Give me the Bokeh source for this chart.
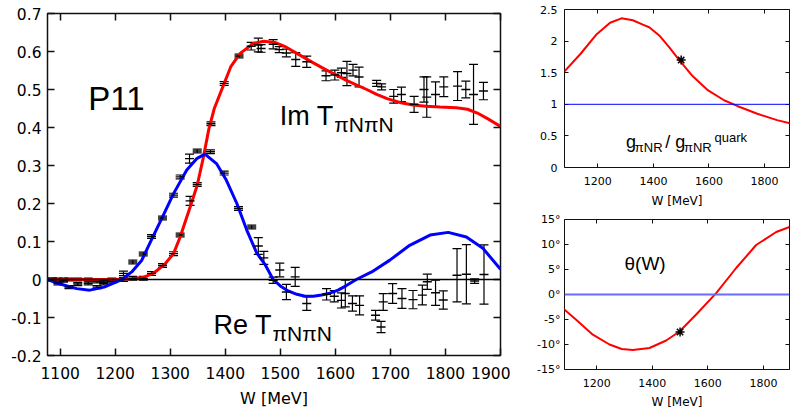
import numpy as np
from bokeh.plotting import figure
from bokeh.models import (ColumnDataSource, Whisker, TeeHead, Span, Label, LinearAxis,
                          FixedTicker, CustomJSTickFormatter)
from bokeh.layouts import row, column
from bokeh.embed import file_html
from bokeh.resources import INLINE

# ---------------- data: main panel (P11 pi N -> pi N amplitude) ----------------
re_w = [1086, 1096, 1106, 1116, 1132, 1151, 1167, 1179, 1194,
        1215, 1232, 1251, 1266, 1286, 1306, 1318, 1335, 1349, 1373,
        1398, 1424, 1448, 1460, 1470, 1487, 1499, 1511, 1527, 1548,
        1584, 1598, 1611, 1618, 1631, 1644, 1673, 1683, 1687, 1704,
        1721, 1741, 1758, 1767, 1782, 1796, 1821, 1838, 1853, 1870]
re_v = [0, -0.01, -0.003, -0.02, -0.012, -0.01, -0.02, -0.01, -0.005,
        0.016, 0.046, 0.067, 0.113, 0.162, 0.222, 0.27, 0.318, 0.338, 0.336,
        0.28, 0.187, 0.138, 0.088, 0.057, -0.002, 0.025, -0.033, 0.007, -0.063,
        -0.039, -0.044, -0.055, -0.037, -0.063, -0.068, -0.094, -0.125, -0.059, -0.037,
        -0.05, -0.053, -0.041, -0.006, -0.035, -0.054, 0.011, 0.014, -0.004, 0.013]
re_e = [0.004, 0.004, 0.004, 0.004, 0.004, 0.004, 0.004, 0.004, 0.004,
        0.006, 0.005, 0.005, 0.005, 0.005, 0.005, 0.005, 0.012, 0.005, 0.005,
        0.005, 0.005, 0.005, 0.022, 0.017, 0.008, 0.018, 0.02, 0.025, 0.018,
        0.015, 0.015, 0.02, 0.035, 0.02, 0.025, 0.013, 0.015, 0.022, 0.026,
        0.026, 0.024, 0.026, 0.02, 0.033, 0.024, 0.07, 0.078, 0.006, 0.078]

im_w = [1086, 1096, 1106, 1116, 1132, 1151, 1167, 1179, 1194,
        1215, 1232, 1251, 1266, 1286, 1306, 1318, 1336, 1349, 1374,
        1398, 1425, 1447, 1460, 1465, 1487, 1498, 1511, 1528, 1548,
        1583, 1599, 1611, 1621, 1632, 1643, 1675, 1684, 1706, 1720,
        1743, 1761, 1766, 1782, 1797, 1822, 1837, 1851, 1869]
im_v = [0, 0, 0, 0, 0, 0, -0.005, -0.003, 0,
        0.0, 0.003, 0.003, 0.016, 0.037, 0.068, 0.117, 0.207, 0.25, 0.41,
        0.516, 0.588, 0.614, 0.617, 0.608, 0.619, 0.605, 0.596, 0.579, 0.573,
        0.536, 0.538, 0.544, 0.542, 0.551, 0.533, 0.516, 0.507, 0.482, 0.487,
        0.461, 0.5, 0.48, 0.487, 0.507, 0.509, 0.5, 0.487, 0.496]
im_e = [0.004, 0.004, 0.004, 0.004, 0.004, 0.004, 0.004, 0.004, 0.004,
        0.005, 0.005, 0.005, 0.005, 0.005, 0.005, 0.005, 0.012, 0.005, 0.005,
        0.005, 0.005, 0.01, 0.018, 0.01, 0.012, 0.008, 0.01, 0.018, 0.015,
        0.013, 0.013, 0.012, 0.032, 0.015, 0.026, 0.008, 0.008, 0.018, 0.019,
        0.021, 0.033, 0.053, 0.033, 0.026, 0.038, 0.022, 0.079, 0.023]

im_curve_w = [1077, 1150, 1200, 1230, 1250, 1270, 1290, 1306, 1318, 1336, 1349, 1360,
              1370, 1380, 1398, 1410, 1427, 1451, 1470, 1490, 1510, 1530, 1560, 1584,
              1603, 1620, 1638, 1657, 1675, 1694, 1717, 1741, 1765, 1790, 1820, 1840,
              1858, 1878, 1900]
im_curve_v = [0, 0, 0, 0.002, 0.005, 0.017, 0.04, 0.068, 0.112, 0.19, 0.248, 0.32,
              0.395, 0.45, 0.516, 0.56, 0.595, 0.621, 0.627, 0.624, 0.612, 0.595, 0.57, 0.551,
              0.537, 0.524, 0.512, 0.5, 0.487, 0.476, 0.466, 0.459, 0.456, 0.454, 0.452, 0.448,
              0.438, 0.422, 0.403]

re_curve_w = [1077, 1100, 1130, 1154, 1180, 1212, 1230, 1248, 1266, 1286, 1306, 1330,
              1348, 1363, 1384, 1402, 1421, 1439, 1457, 1472, 1487, 1500, 1514, 1530,
              1545, 1560, 1575, 1590, 1605, 1620, 1638, 1666, 1699, 1735, 1772, 1805,
              1838, 1868, 1900]
re_curve_v = [0, -0.012, -0.024, -0.028, -0.02, 0, 0.02, 0.05, 0.105, 0.165, 0.226, 0.288,
              0.318, 0.33, 0.305, 0.261, 0.2, 0.13, 0.07, 0.04, 0, -0.017, -0.03, -0.039,
              -0.044, -0.044, -0.041, -0.036, -0.028, -0.016, 0, 0.02, 0.051, 0.09, 0.117, 0.124,
              0.112, 0.082, 0.027]

main_xticks = [1100, 1200, 1300, 1400, 1500, 1600, 1700, 1800, 1900]
main_yticks = [-0.2, -0.1, 0, 0.1, 0.2, 0.3, 0.4, 0.5, 0.6, 0.7]
main_ylabels = ["-0.2", "-0.1", "0", "0.1", "0.2", "0.3", "0.4", "0.5", "0.6", "0.7"]

# ---------------- data: coupling ratio panel ----------------
g_w = [1080, 1138, 1196, 1244, 1285, 1326, 1362, 1385, 1421, 1456, 1491, 1538,
       1597, 1656, 1704, 1774, 1845, 1892]
g_v = [1.52, 1.80, 2.11, 2.29, 2.36, 2.33, 2.26, 2.22, 2.09, 1.91, 1.71, 1.46,
       1.22, 1.06, 0.97, 0.85, 0.75, 0.70]
g_star_w = [1500]
g_star_v = [1.7]
g_ref = 1.0
g_yticks = [0, 0.5, 1, 1.5, 2, 2.5]
g_ylabels = ["0", "0.5", "1", "1.5", "2", "2.5"]

# ---------------- data: mixing angle panel ----------------
th_w = [1080, 1126, 1186, 1246, 1290, 1330, 1390, 1450, 1498, 1558, 1630, 1702,
        1774, 1846, 1894]
th_v = [-2.85, -5.04, -8.03, -10.0, -10.9, -11.1, -10.7, -9.2, -7.4, -4.0, 0.27, 5.3,
        9.9, 12.5, 13.5]
th_star_w = [1500]
th_star_v = [-7.5]
th_ref = 0.0
th_yticks = [-15, -10, -5, 0, 5, 10, 15]
th_ylabels = ["-15°", "-10°", "-5°", "0°", "5°", "10°", "15°"]

right_xticks = [1200, 1400, 1600, 1800]

TICK_FONT = "DejaVu Sans"
TEXT_FONT = "Liberation Sans"
FRAME = "#111111"


def style(p, xticks, yticks, ylabels, tick_len, font_size, frame_w,
          xlabel, xlabel_size, x_standoff, xlabel_standoff, y_standoff):
    p.xgrid.grid_line_color = None
    p.ygrid.grid_line_color = None
    p.outline_line_color = FRAME
    p.outline_line_width = frame_w
    p.outline_line_alpha = 1.0
    p.background_fill_color = "white"
    p.border_fill_color = "white"
    for ax in (p.below[0], p.left[0]):
        ax.axis_line_color = None
        ax.major_tick_in = tick_len
        ax.major_tick_out = 0
        ax.major_tick_line_color = FRAME
        ax.major_tick_line_width = frame_w
        ax.minor_tick_line_color = None
        ax.major_label_text_font = TICK_FONT
        ax.major_label_text_font_size = font_size
        ax.major_label_text_color = "black"
    xa = p.below[0]
    ya = p.left[0]
    xa.ticker = FixedTicker(ticks=xticks)
    ya.ticker = FixedTicker(ticks=yticks)
    ya.major_label_overrides = {t: l for t, l in zip(yticks, ylabels)}
    xa.axis_label = xlabel
    xa.axis_label_text_font = TICK_FONT
    xa.axis_label_text_font_style = "normal"
    xa.axis_label_text_font_size = xlabel_size
    xa.axis_label_text_color = "black"
    xa.major_label_standoff = x_standoff
    xa.axis_label_standoff = xlabel_standoff
    ya.major_label_standoff = y_standoff
    # mirror ticks (no labels) on the opposite sides
    for side, ticks in (("right", yticks), ("above", xticks)):
        ax = LinearAxis(ticker=FixedTicker(ticks=ticks),
                        formatter=CustomJSTickFormatter(code="return ''"),
                        axis_line_color=None, major_tick_in=tick_len, major_tick_out=0,
                        major_tick_line_color=FRAME, major_tick_line_width=frame_w,
                        minor_tick_line_color=None, major_label_standoff=0,
                        major_label_text_font_size="1px")
        p.add_layout(ax, side)


def label(fig, x, y, text, size, px_per_unit, align="left"):
    # y is the text baseline; the label box bottom sits one descent below it
    descent = 0.21 * size / px_per_unit
    fig.add_layout(Label(x=x, y=y - descent, text=text, text_font=TEXT_FONT,
                         text_font_size=f"{size}px", text_color="black", text_align=align))


# ---------------- main panel ----------------
p = figure(width=510, height=411, x_range=(1077, 1900), y_range=(-0.2, 0.7),
           output_backend="svg", toolbar_location=None,
           min_border_left=47, min_border_right=10, min_border_top=13, min_border_bottom=56)
style(p, main_xticks, main_yticks, main_ylabels, 7, "15.5px", 1.5,
      "W [MeV]", "16px", 11, 7, 6)

p.add_layout(Span(location=0, dimension="width", line_color="black", line_width=1.3))

p.line(im_curve_w, im_curve_v, line_color="#ff0000", line_width=3)
p.line(re_curve_w, re_curve_v, line_color="#0000ff", line_width=3)

for w, v, e in ((re_w, re_v, re_e), (im_w, im_v, im_e)):
    va = np.array(v)
    ea = np.array(e)
    src = ColumnDataSource(dict(x=w, y=v, lo=va - ea, hi=va + ea))
    p.add_layout(Whisker(source=src, base="x", upper="hi", lower="lo",
                         line_color="black", line_width=1.2,
                         upper_head=TeeHead(size=9, line_color="black", line_width=1.2),
                         lower_head=TeeHead(size=9, line_color="black", line_width=1.2)))
    p.scatter("x", "y", source=src, marker="dash", size=9, line_color="black", line_width=1.4)

MAIN_PX = 380.0
label(p, 1151, 0.446, "P11", 33, MAIN_PX)
label(p, 1597, 0.406, "Im T", 27, MAIN_PX, "right")
label(p, 1598, 0.389, "πNπN", 21, MAIN_PX)
label(p, 1485, -0.144, "Re T", 27, MAIN_PX, "right")
label(p, 1486, -0.162, "πNπN", 21, MAIN_PX)

# ---------------- top-right panel ----------------
pg = figure(width=280, height=210, x_range=(1080, 1890), y_range=(0, 2.5),
            output_backend="svg", toolbar_location=None,
            min_border_left=50, min_border_right=1, min_border_top=9, min_border_bottom=43)
style(pg, right_xticks, g_yticks, g_ylabels, 4, "11px", 1,
      "W [MeV]", "12px", 9, 6, 7)
pg.add_layout(Span(location=g_ref, dimension="width", line_color="#0000ff", line_width=1))
pg.line(g_w, g_v, line_color="#ff0000", line_width=2)
pg.scatter(g_star_w, g_star_v, marker="asterisk", size=9, line_color="black", line_width=1.5)
G_PX = 63.2
label(pg, 1301, 0.305, "g", 18, G_PX)
label(pg, 1333, 0.242, "πNR", 13, G_PX)
label(pg, 1443, 0.305, "/ g", 18, G_PX)
label(pg, 1510, 0.242, "πNR", 13, G_PX)
label(pg, 1620, 0.40, "quark", 13, G_PX)

# ---------------- bottom-right panel ----------------
pt = figure(width=280, height=201, x_range=(1084, 1894), y_range=(-15, 15),
            output_backend="svg", toolbar_location=None,
            min_border_left=54, min_border_right=1, min_border_top=9, min_border_bottom=41)
style(pt, right_xticks, th_yticks, th_ylabels, 4, "11px", 1,
      "W [MeV]", "12px", 9, 5, 4)
pt.add_layout(Span(location=th_ref, dimension="width", line_color="#6a6aff", line_width=2))
pt.line(th_w, th_v, line_color="#ff0000", line_width=2)
pt.scatter(th_star_w, th_star_v, marker="asterisk", size=9, line_color="black", line_width=1.5)
label(pt, 1300, 4.9, "θ(W)", 19, 5.02)

layout = row(p, column(pg, pt))
open("out.html", "w").write(file_html(layout, INLINE))
